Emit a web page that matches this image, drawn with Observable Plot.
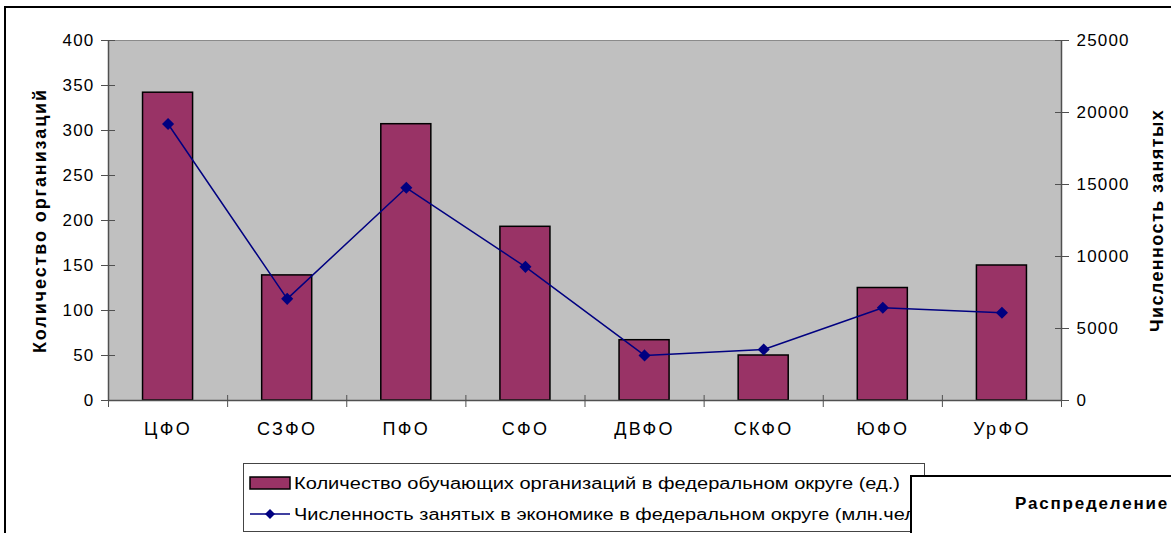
<!DOCTYPE html>
<html><head><meta charset="utf-8">
<script src="https://cdn.jsdelivr.net/npm/d3@7"></script>
<script src="https://cdn.jsdelivr.net/npm/@observablehq/plot@0.6"></script>
<style>
body{margin:0;background:#fff;}
#wrap{position:relative;width:1171px;height:533px;overflow:hidden;font-family:"Liberation Sans",Arial,sans-serif;background:#fff;}
#border{position:absolute;left:4px;top:6px;width:2000px;height:2000px;border-left:2px solid #000;border-top:2px solid #000;}
#chart{position:absolute;left:0;top:0;}
#legend{position:absolute;left:0;top:0;}
</style></head><body>
<div id="wrap"><div id="border"></div><div id="chart"></div><svg id="legend" width="1171" height="533"></svg></div>
<script>
const categories = ["ЦФО","СЗФО","ПФО","СФО","ДВФО","СКФО","ЮФО","УрФО"];
const organizations = [342,139,307,193,67,50,125,150];
const employed = [19200,7060,14770,9280,3130,3540,6440,6090];
const leftTicks = [0,50,100,150,200,250,300,350,400];
const rightTicks = [0,5000,10000,15000,20000,25000];
const leftTitle = "Количество организаций";
const rightTitle = "Численность занятых";
const seriesNames = ["Количество обучающих организаций в федеральном округе (ед.)","Численность занятых в экономике в федеральном округе (млн.чел.)"];
const sideTitle = "Распределение";

const ratio = 25000/400;
const data = categories.map((c,i)=>({i, cat:c, org:organizations[i], emp:employed[i]/ratio}));
const halfBar = 0.21;
const axisColor = "#505050";
const font = "'Liberation Sans', Arial, sans-serif";

const plot = Plot.plot({
  width:1171, height:450,
  marginLeft:108, marginRight:110, marginTop:40, marginBottom:50,
  style:{fontFamily:font, fontSize:"17px", background:"transparent", color:"#000"},
  x:{domain:[-0.5, categories.length-0.5], axis:null},
  y:{domain:[0,400], axis:null},
  marks:[
    Plot.frame({fill:"#c0c0c0", stroke:"#8a8a8a"}),
    Plot.rectY(data,{x1:d=>d.i-halfBar, x2:d=>d.i+halfBar, y:"org", fill:"#993366", stroke:"#000", strokeWidth:1.5}),
    Plot.lineY(data,{x:"i", y:"emp", stroke:"#000080", strokeWidth:1.5}),
    Plot.dot(data,{x:"i", y:"emp", symbol:"diamond2", r:4.5, fill:"#000080", stroke:"#000080"}),
    Plot.ruleY([0],{stroke:axisColor, strokeWidth:1.5}),
    Plot.ruleX([-0.5, categories.length-0.5],{stroke:axisColor, strokeWidth:1.5}),
    Plot.axisY({anchor:"left", ticks:leftTicks, tickSize:14, dx:7, tickFormat:()=>"", stroke:axisColor, label:null}),
    Plot.axisY({anchor:"left", ticks:leftTicks, tickSize:0, tickPadding:14, fontSize:17, fill:"#000", label:null, style:{letterSpacing:"1px"}}),
    Plot.axisY({anchor:"right", ticks:rightTicks.map(v=>v/ratio), tickSize:14, dx:-7, tickFormat:()=>"", stroke:axisColor, label:null}),
    Plot.axisY({anchor:"right", ticks:rightTicks.map(v=>v/ratio), tickSize:0, tickPadding:15, fontSize:17, fill:"#000", tickFormat:d=>String(Math.round(d*ratio)), label:null}),
    Plot.axisX({anchor:"bottom", ticks:d3.range(-0.5, categories.length, 1), tickSize:12, dy:-5, tickFormat:()=>"", stroke:axisColor, label:null}),
    Plot.axisX({anchor:"bottom", ticks:d3.range(categories.length), tickSize:0, tickPadding:22, fontSize:18, fill:"#000", tickFormat:i=>categories[i], label:null}),
    Plot.text([leftTitle],{frameAnchor:"left", dx:-68, rotate:-90, textAnchor:"middle", fontWeight:"bold", fontSize:18, fill:"#000"}),
    Plot.text([rightTitle],{frameAnchor:"right", dx:96, rotate:-90, textAnchor:"middle", fontWeight:"bold", fontSize:18, fill:"#000"})
  ]
});
// spacing tweaks to match the wider lettering of the reference
const sel = d3.select(plot);
sel.selectAll("g[aria-label='y-axis tick label'] text, g[aria-label='y-axis tick label'] text").style("letter-spacing","1.2px");
sel.selectAll("g[aria-label='x-axis tick label'] text").style("letter-spacing","2.3px");
sel.selectAll("g[aria-label='text'] text").each(function(){
  const t = d3.select(this);
  t.style("letter-spacing", t.text()===leftTitle ? "1.9px" : "1.4px");
});
document.getElementById("chart").appendChild(plot);

// legend
const svg = d3.select("#legend");
svg.append("rect").attr("x",243.5).attr("y",463.5).attr("width",681).attr("height",68).attr("fill","#fff").attr("stroke","#444").attr("stroke-width",1);
svg.append("rect").attr("x",250).attr("y",477).attr("width",40).attr("height",12).attr("fill","#993366").attr("stroke","#000").attr("stroke-width",1.5);
svg.append("text").attr("x",294).attr("y",489).attr("font-size",16).attr("textLength",606).attr("lengthAdjust","spacingAndGlyphs").attr("font-family",font).text(seriesNames[0]);
svg.append("line").attr("x1",250).attr("x2",290).attr("y1",514).attr("y2",514).attr("stroke","#000080").attr("stroke-width",1.5);
svg.append("path").attr("d",d3.symbol(d3.symbolSquare, 50)()).attr("transform","translate(270,514) rotate(45)").attr("fill","#000080");
svg.append("text").attr("x",294).attr("y",520).attr("font-size",16).attr("textLength",634).attr("lengthAdjust","spacingAndGlyphs").attr("font-family",font).text(seriesNames[1]);
svg.append("rect").attr("x",911).attr("y",476).attr("width",400).attr("height",200).attr("fill","#fff").attr("stroke","#000").attr("stroke-width",2);
svg.append("text").attr("x",1015).attr("y",509).attr("font-size",17).attr("font-weight","bold").attr("letter-spacing","1.8px").attr("font-family",font).text(sideTitle);
</script>
</body></html>
